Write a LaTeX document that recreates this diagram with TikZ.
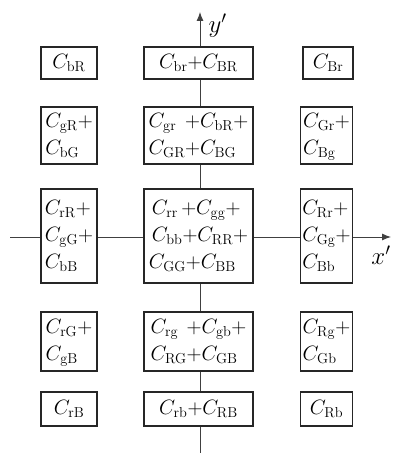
\documentclass[tikz,border=0pt]{standalone}
\usetikzlibrary{arrows.meta,backgrounds}
\newcommand{\Cs}[1]{C_{\mathrm{#1}}}
\begin{document}
\begin{tikzpicture}[x=1pt,y=1pt,
  cell/.style={draw=black!85,line width=1.7pt,fill=white,inner sep=0pt,
    font=\fontsize{20.5}{27}\selectfont},
  axis/.style={draw=black!75,line width=0.9pt},
  lbl/.style={font=\fontsize{25}{28}\selectfont}]
\useasboundingbox (0,0) rectangle (396,453);
% columns: left 41-97, centre 144-253, right 301-353
% row 1
\node[cell,minimum width=56,minimum height=32] (l1) at (69,390) {$\Cs{bR}$};
\node[cell,minimum width=109,minimum height=32] (c1) at (198.5,390) {$\Cs{br}{+}\Cs{BR}$};
\node[cell,minimum width=50,minimum height=32] (r1) at (328,390) {$\Cs{Br}$};
% row 2
\node[cell,minimum width=56,minimum height=57] (l2) at (69,317.5)
  {$\begin{array}{@{}l@{}}\Cs{gR}{+}\\ \Cs{bG}\end{array}$};
\node[cell,minimum width=109,minimum height=57] (c2) at (198.5,317.5)
  {$\begin{array}{@{}l@{}l@{}}\Cs{gr}&{+}\Cs{bR}{+}\\ \Cs{GR}&{+}\Cs{BG}\end{array}$};
\node[cell,minimum width=52,minimum height=57] (r2) at (326.5,317.5)
  {$\begin{array}{@{}l@{}}\Cs{Gr}{+}\\ \Cs{Bg}\end{array}$};
% row 3
\node[cell,minimum width=56,minimum height=94] (l3) at (69,217)
  {$\begin{array}{@{}l@{}}\Cs{rR}{+}\\ \Cs{gG}{+}\\ \Cs{bB}\end{array}$};
\node[cell,minimum width=109,minimum height=94] (c3) at (198.5,217)
  {$\begin{array}{@{}l@{}}\hspace*{3pt}\Cs{rr}\,{+}\Cs{gg}{+}\\ \hspace*{3pt}\Cs{bb}{+}\Cs{RR}{+}\\ \Cs{GG}{+}\Cs{BB}\end{array}$};
\node[cell,minimum width=52,minimum height=94] (r3) at (326.5,217)
  {$\begin{array}{@{}l@{}}\Cs{Rr}{+}\\ \Cs{Gg}{+}\\ \Cs{Bb}\end{array}$};
% row 4
\node[cell,minimum width=56,minimum height=59] (l4) at (69,111.5)
  {$\begin{array}{@{}l@{}}\Cs{rG}{+}\\ \Cs{gB}\end{array}$};
\node[cell,minimum width=109,minimum height=59] (c4) at (198.5,111.5)
  {$\begin{array}{@{}l@{}l@{}}\Cs{rg}\,&{+}\Cs{gb}{+}\\ \Cs{RG}&{+}\Cs{GB}\end{array}$};
\node[cell,minimum width=52,minimum height=59] (r4) at (326.5,111.5)
  {$\begin{array}{@{}l@{}}\Cs{Rg}{+}\\ \Cs{Gb}\end{array}$};
% row 5
\node[cell,minimum width=56,minimum height=34] (l5) at (69,44) {$\Cs{rB}$};
\node[cell,minimum width=109,minimum height=34] (c5) at (198.5,44) {$\Cs{rb}{+}\Cs{RB}$};
\node[cell,minimum width=52,minimum height=34] (r5) at (326.5,44) {$\Cs{Rb}$};
% axes
\coordinate (xs) at (10,216);
\coordinate (xe) at (391,216);
\coordinate (ys) at (200,0);
\coordinate (ye) at (200,441);
\node[lbl,anchor=west] (ylab) at (205,427) {$y'$};
\node[lbl] (xlab) at (381,198) {$x'$};
\begin{scope}[on background layer]
\draw[axis,-{Latex[length=9pt,width=7pt]}] (xs) -- (xe);
\draw[axis,-{Latex[length=9pt,width=7pt]}] (ys) -- (ye);
\end{scope}
\end{tikzpicture}
\end{document}
